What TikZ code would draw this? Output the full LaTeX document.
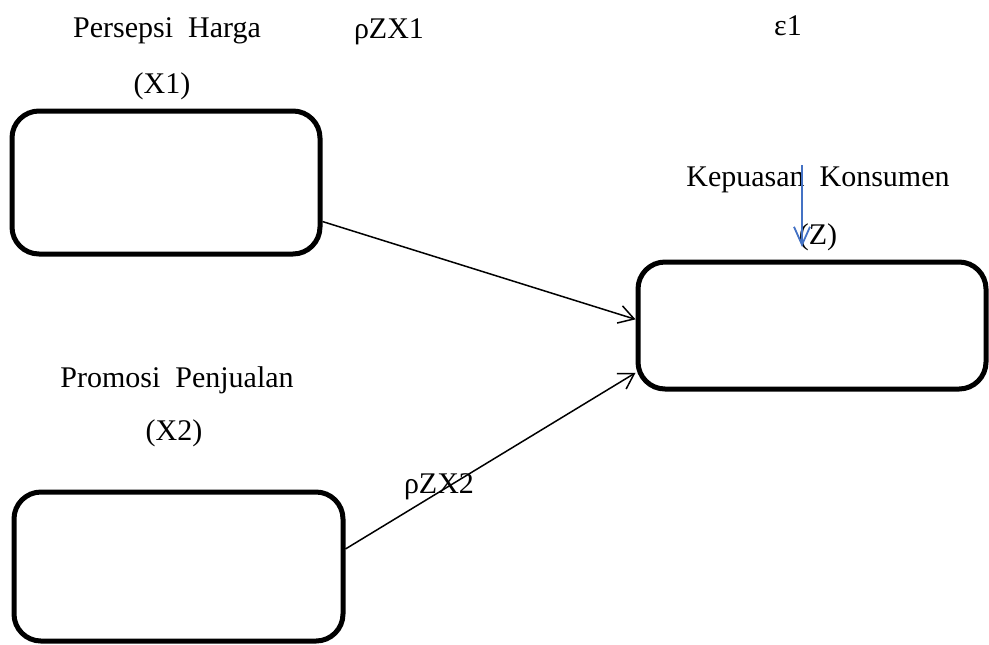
\documentclass[tikz,border=0pt]{standalone}
\usepackage{fontspec}
\setmainfont{Liberation Serif}
\usetikzlibrary{arrows.meta}
\definecolor{errblue}{RGB}{68,114,196}

\begin{document}
\begin{tikzpicture}[x=0.5pt,y=-0.5pt]
\tikzset{box/.style = {shape=rectangle,draw,rounded corners=13.5pt,line width=2.5pt,inner sep=0pt}}
\tikzset{lbl/.style = {anchor=base,inner sep=0pt,font=\fontsize{15}{18}\selectfont}}
\useasboundingbox (0,0) rectangle (989,644);
% vertices
\node[box,minimum width=154pt,minimum height=71.5pt] (x1) at (166,182.5) {};
\node[box,minimum width=164.5pt,minimum height=74.5pt] (x2) at (178.5,566.5) {};
\node[box,minimum width=174pt,minimum height=63.5pt] (z) at (812,325.5) {};

% labels
\node[lbl] (x1name) at (167,37) {Persepsi~~Harga};
\node[lbl] (x1code) at (162,93) {(X1)};
\node[lbl] (x2name) at (177,387) {Promosi~~Penjualan};
\node[lbl] (x2code) at (174,440) {(X2)};
\node[lbl] (zname) at (818,186) {Kepuasan~~Konsumen};
\node[lbl] (zcode) at (818,244) {(Z)};
\node[lbl] (p1) at (389,38) {ρZX1};
\node[lbl] (p2) at (439,493) {ρZX2};
\node[lbl] (eps) at (788,35) {ε1};
\coordinate (etop) at (802,165);
\coordinate (etip) at (802,247);

%edges
\tikzset{edge/.style = {-{Straight Barb[length=7.5pt,width=9pt]},line width=0.75pt}}
\tikzset{erredge/.style = {-{Straight Barb[length=9pt,width=8pt]},line width=0.9pt,errblue}}
\draw[edge] (x1.-14) to[] (z.178);
\draw[edge] (x2.6) to[] (z.-165);
\draw[erredge] (etop) to[] (etip);
\end{tikzpicture}
\end{document}
